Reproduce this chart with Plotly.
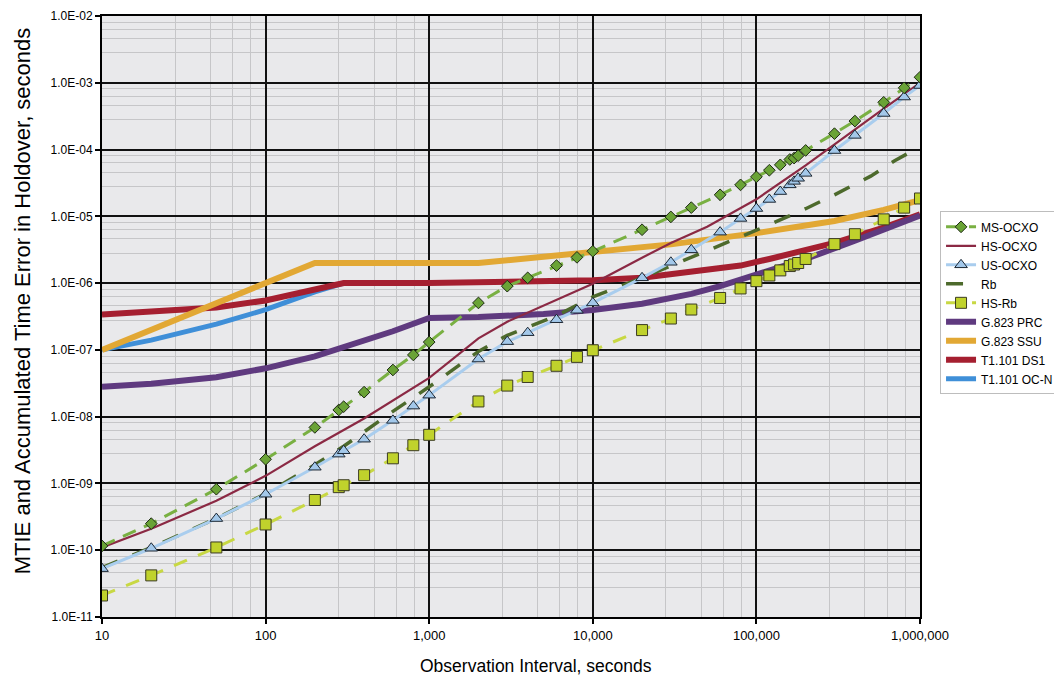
import plotly.graph_objects as go

# ---------------- data ----------------
x_osc = [10, 20, 50, 100, 200, 280, 300, 400, 600, 800, 1000, 2000, 3000, 4000,
         6000, 8000, 10000, 20000, 30000, 40000, 60000, 80000, 100000, 120000,
         140000, 160000, 170000, 180000, 200000, 300000, 400000, 600000, 800000,
         1000000]

ms_ocxo = [1.16e-10, 2.5e-10, 8.2e-10, 2.3e-9, 6.9e-9, 1.26e-8, 1.41e-8, 2.33e-8,
           5.0e-8, 8.4e-8, 1.31e-7, 5.05e-7, 9.0e-7, 1.2e-6, 1.83e-6, 2.43e-6,
           3.0e-6, 6.3e-6, 9.8e-6, 1.35e-5, 2.1e-5, 2.96e-5, 3.9e-5, 4.9e-5,
           5.9e-5, 7.1e-5, 7.45e-5, 8.1e-5, 9.7e-5, 1.73e-4, 2.67e-4, 5.1e-4,
           8.4e-4, 1.21e-3]

us_ocxo = [5.3e-11, 1.07e-10, 2.98e-10, 6.9e-10, 1.75e-9, 2.75e-9, 3.09e-9, 4.6e-9,
           8.8e-9, 1.44e-8, 2.1e-8, 7.3e-8, 1.33e-7, 1.81e-7, 2.83e-7, 3.92e-7,
           5.05e-7, 1.2e-6, 2.05e-6, 3.15e-6, 5.8e-6, 9.3e-6, 1.31e-5, 1.79e-5,
           2.35e-5, 2.96e-5, 3.34e-5, 3.71e-5, 4.4e-5, 9.66e-5, 1.63e-4, 3.47e-4,
           6.12e-4, 9.1e-4]

hs_rb = [2.1e-11, 4.2e-11, 1.1e-10, 2.43e-10, 5.65e-10, 8.8e-10, 9.4e-10, 1.33e-9,
         2.38e-9, 3.74e-9, 5.35e-9, 1.69e-8, 2.92e-8, 3.93e-8, 5.78e-8, 7.86e-8,
         9.88e-8, 1.98e-7, 2.95e-7, 4.02e-7, 5.99e-7, 8.32e-7, 1.07e-6, 1.3e-6,
         1.55e-6, 1.8e-6, 1.9e-6, 2.0e-6, 2.3e-6, 3.84e-6, 5.4e-6, 9.0e-6,
         1.35e-5, 1.85e-5]

x_hs_ocxo = [10, 20, 50, 100, 200, 400, 1000, 2000, 3000, 10000, 20000, 30000,
             50000, 100000, 200000, 300000, 600000, 1000000]
hs_ocxo = [1.1e-10, 2.1e-10, 5.5e-10, 1.3e-9, 3.6e-9, 9.4e-9, 3.8e-8, 1.49e-7,
           2.64e-7, 9.8e-7, 2.4e-6, 4.0e-6, 7.0e-6, 1.8e-5, 5.8e-5, 1.2e-4,
           4.1e-4, 1.0e-3]

x_rb = [10, 20, 50, 100, 200, 300, 600, 1000, 2000, 3000, 6000, 10000, 20000,
        30000, 60000, 100000, 200000, 300000, 500000, 700000, 1000000]
rb = [5.5e-11, 1.1e-10, 3.0e-10, 7.0e-10, 1.9e-9, 3.6e-9, 1.2e-8, 2.8e-8, 9.5e-8,
      1.65e-7, 3.25e-7, 6.2e-7, 1.2e-6, 1.8e-6, 3.7e-6, 6.2e-6, 1.3e-5, 2.1e-5,
      4.0e-5, 6.8e-5, 1.1e-4]

x_prc = [10, 20, 50, 100, 200, 300, 600, 1000, 2000, 5000, 10000, 20000, 40000,
         60000, 100000, 200000, 400000, 1000000]
g823_prc = [2.8e-8, 3.1e-8, 3.9e-8, 5.3e-8, 8.0e-8, 1.08e-7, 1.9e-7, 3.0e-7,
            3.1e-7, 3.45e-7, 3.95e-7, 4.9e-7, 6.9e-7, 9.0e-7, 1.35e-6, 2.3e-6,
            4.3e-6, 1.03e-5]

x_ssu = [10, 200, 2000, 3000, 10000, 30000, 100000, 300000, 600000, 1000000]
g823_ssu = [1.0e-7, 2.0e-6, 2.0e-6, 2.2e-6, 2.85e-6, 3.8e-6, 5.6e-6, 8.5e-6,
            1.25e-5, 1.75e-5]

x_ds1 = [10, 20, 50, 100, 200, 300, 1000, 10000, 20000, 40000, 80000, 120000,
         300000, 600000, 1000000]
t1101_ds1 = [3.4e-7, 3.7e-7, 4.3e-7, 5.5e-7, 8.0e-7, 1.0e-6, 1.0e-6, 1.1e-6,
             1.2e-6, 1.46e-6, 1.83e-6, 2.3e-6, 4.0e-6, 6.8e-6, 1.07e-5]

x_ocn = [10, 20, 50, 100, 200, 300]
t1101_ocn = [1.0e-7, 1.4e-7, 2.43e-7, 4.0e-7, 7.4e-7, 1.0e-6]

x_tickvals = [10, 100, 1000, 10000, 100000, 1000000]
x_ticktext = ["10", "100", "1,000", "10,000", "100,000", "1,000,000"]
y_tickvals = [1e-11, 1e-10, 1e-9, 1e-8, 1e-7, 1e-6, 1e-5, 1e-4, 1e-3, 1e-2]
y_ticktext = ["1.0E-11", "1.0E-10", "1.0E-09", "1.0E-08", "1.0E-07", "1.0E-06",
              "1.0E-05", "1.0E-04", "1.0E-03", "1.0E-02"]
minor_mult = [2.8, 4.6, 6.3, 8.1]

x_minor = [d * m for d in x_tickvals[:-1] for m in minor_mult]
y_minor = [d * m for d in y_tickvals[:-1] for m in minor_mult]

FONT = "Liberation Sans, Arial, sans-serif"

fig = go.Figure()

# thick standard masks (drawn underneath)
fig.add_trace(go.Scatter(x=x_ocn, y=t1101_ocn, mode="lines", name="T1.101 OC-N",
                         line=dict(color="#3f8fd8", width=5), legendrank=9))
fig.add_trace(go.Scatter(x=x_ds1, y=t1101_ds1, mode="lines", name="T1.101 DS1",
                         line=dict(color="#a51f30", width=6), legendrank=8))
fig.add_trace(go.Scatter(x=x_prc, y=g823_prc, mode="lines", name="G.823 PRC",
                         line=dict(color="#5f3a7f", width=6), legendrank=6))
fig.add_trace(go.Scatter(x=x_ssu, y=g823_ssu, mode="lines", name="G.823 SSU",
                         line=dict(color="#e2a834", width=6), legendrank=7))

# oscillators
fig.add_trace(go.Scatter(x=x_rb, y=rb, mode="lines", name="Rb",
                         line=dict(color="#4d6a2c", width=3.5, dash="17px,16px"),
                         legendrank=4))
fig.add_trace(go.Scatter(x=x_hs_ocxo, y=hs_ocxo, mode="lines", name="HS-OCXO",
                         line=dict(color="#8b2944", width=2.2), legendrank=2))
fig.add_trace(go.Scatter(x=x_osc, y=us_ocxo, mode="lines+markers", name="US-OCXO",
                         line=dict(color="#a9cdee", width=3),
                         marker=dict(symbol="triangle-up", size=11, color="#a3c8ea",
                                     line=dict(color="#1c2733", width=1)),
                         legendrank=3))
fig.add_trace(go.Scatter(x=x_osc, y=hs_rb, mode="lines+markers", name="HS-Rb",
                         line=dict(color="#c8d843", width=3, dash="14px,12px"),
                         marker=dict(symbol="square", size=11, color="#c0d22c",
                                     line=dict(color="#3b3b23", width=1)),
                         legendrank=5))
fig.add_trace(go.Scatter(x=x_osc, y=ms_ocxo, mode="lines+markers", name="MS-OCXO",
                         line=dict(color="#79b042", width=3, dash="14px,9px"),
                         marker=dict(symbol="diamond", size=9, color="#6aa336",
                                     line=dict(color="#1e2a14", width=1)),
                         legendrank=1))

# page has an 8px body margin, so the figure is sized to the remaining area
fig.update_layout(
    width=1054, height=671,
    margin=dict(l=94, r=142, t=8, b=62, autoexpand=False),
    paper_bgcolor="white",
    plot_bgcolor="#e9e9eb",
    font=dict(family=FONT, size=12, color="black"),
    showlegend=True,
    legend=dict(x=1.0245, y=0.675, xanchor="left", yanchor="top",
                bgcolor="white", bordercolor="#bdbdbd", borderwidth=1,
                font=dict(family=FONT, size=12, color="black"),
                itemwidth=30, tracegroupgap=0),
)

fig.update_xaxes(
    type="log", range=[1, 6], automargin=False,
    tickmode="array", tickvals=x_tickvals, ticktext=x_ticktext,
    tickfont=dict(size=13, family=FONT), ticklabeloverflow="allow",
    ticks="outside", ticklen=5, tickwidth=1.5, tickcolor="black",
    showgrid=True, gridcolor="#111111", gridwidth=2,
    showline=True, linecolor="black", linewidth=2, mirror=True,
    minor=dict(tickmode="array", tickvals=x_minor, showgrid=True,
               gridcolor="#c6c6c8", gridwidth=1.2, ticks=""),
    zeroline=False,
)
fig.update_yaxes(
    type="log", range=[-11, -2], automargin=False,
    tickmode="array", tickvals=y_tickvals, ticktext=y_ticktext,
    tickfont=dict(size=12, family=FONT), ticklabeloverflow="allow",
    ticks="outside", ticklen=5, tickwidth=1.5, tickcolor="black",
    showgrid=True, gridcolor="#111111", gridwidth=2,
    showline=True, linecolor="black", linewidth=2, mirror=True,
    minor=dict(tickmode="array", tickvals=y_minor, showgrid=True,
               gridcolor="#c6c6c8", gridwidth=1.2, ticks=""),
    zeroline=False,
)

fig.add_annotation(text="MTIE and Accumulated Time Error in Holdover, seconds",
                   xref="paper", yref="paper", x=-0.0978, y=0.527,
                   xanchor="center", yanchor="middle",
                   textangle=-90, showarrow=False,
                   font=dict(family=FONT, size=22, color="black"))
fig.add_annotation(text="Observation Interval, seconds",
                   xref="paper", yref="paper", x=0.5306, y=-0.0812,
                   xanchor="center", yanchor="middle", showarrow=False,
                   font=dict(family=FONT, size=17.5, color="black"))

fig.write_html("out.html")
